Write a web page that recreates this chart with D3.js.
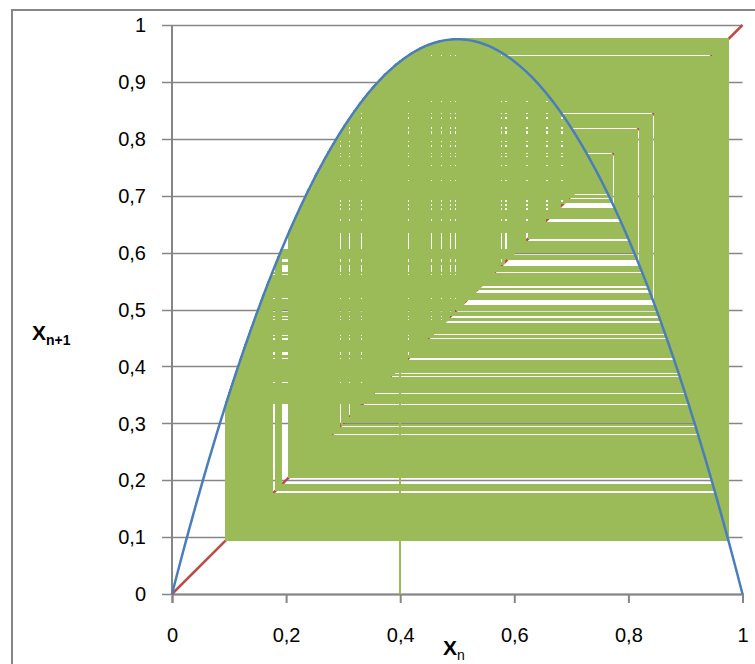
<!DOCTYPE html>
<html>
<head>
<meta charset="utf-8">
<script src="https://cdn.jsdelivr.net/npm/d3@7"></script>
<style>
  html, body { margin: 0; padding: 0; background: #fff; }
  svg { display: block; }
  text { font-family: "Liberation Sans", Arial, sans-serif; fill: #000; }
</style>
</head>
<body>
<svg id="chart" width="755" height="664"></svg>
<script>
// Logistic map x(n+1) = r * x(n) * (1 - x(n)), cobweb diagram
const growthRate = 3.9;
const startValue = 0.4;
const iterations = 1300;

const yTicks = [0, 0.1, 0.2, 0.3, 0.4, 0.5, 0.6, 0.7, 0.8, 0.9, 1];
const xTicks = [0, 0.2, 0.4, 0.6, 0.8, 1];
const diagonal = [0, 1];
const curveSamples = d3.range(0, 201).map(i => i / 200);

const logistic = v => growthRate * v * (1 - v);

// cobweb path: up to the curve, across to the diagonal, repeat
const cobweb = [[startValue, 0]];
let xn = startValue;
for (let i = 0; i < iterations; i++) {
  const next = logistic(xn);
  cobweb.push([xn, next]);
  cobweb.push([next, next]);
  xn = next;
}

const svg = d3.select("#chart");
const plotLeft = 172, plotRight = 742.5, plotTop = 25, plotBottom = 594;
const x = d3.scaleLinear().domain([0, 1]).range([plotLeft, plotRight]);
const y = d3.scaleLinear().domain([0, 1]).range([plotBottom, plotTop]);
const fmt = d => d === 0 ? "0" : d === 1 ? "1" : String(d).replace(".", ",");
const gray = "#868686";

// chart area frame
svg.append("path")
  .attr("d", "M12,664 L12,10 L755,10")
  .attr("fill", "none").attr("stroke", gray).attr("stroke-width", 2);

// horizontal gridlines + y tick marks
svg.append("g").selectAll("line").data(yTicks).join("line")
  .attr("x1", plotLeft - 10).attr("x2", plotRight)
  .attr("y1", d => Math.round(y(d)) + 0.5).attr("y2", d => Math.round(y(d)) + 0.5)
  .attr("stroke", gray).attr("stroke-width", 1.5);

// y axis line
svg.append("line")
  .attr("x1", plotLeft).attr("x2", plotLeft).attr("y1", plotTop).attr("y2", plotBottom)
  .attr("stroke", gray).attr("stroke-width", 2);

// x axis with outward ticks
const xAxis = d3.axisBottom(x).tickValues(xTicks).tickSize(9).tickFormat(fmt).tickPadding(25);
const gx = svg.append("g").attr("transform", `translate(0,${plotBottom})`).call(xAxis);
gx.select(".domain").attr("stroke", gray).attr("stroke-width", 2);
gx.selectAll(".tick line").attr("stroke", gray).attr("stroke-width", 2);
gx.selectAll("text").attr("font-size", 20).attr("font-family", "Liberation Sans, Arial, sans-serif").attr("fill", "#000");

// y tick labels
svg.append("g").selectAll("text").data(yTicks).join("text")
  .attr("x", 146).attr("y", d => y(d)).attr("dy", "0.36em")
  .attr("text-anchor", "end").attr("font-size", 20)
  .text(fmt);

// diagonal y = x
svg.append("path")
  .datum(diagonal.map(v => [v, v]))
  .attr("d", d3.line().x(d => x(d[0])).y(d => y(d[1])))
  .attr("fill", "none").attr("stroke", "#BE4B48").attr("stroke-width", 2.5);

// cobweb iterations (axis-aligned segments, drawn crisp)
svg.append("path")
  .datum(cobweb)
  .attr("d", d3.line().x(d => x(d[0])).y(d => y(d[1])))
  .attr("fill", "none").attr("stroke", "#9BBB59").attr("stroke-width", 2)
  .attr("stroke-linejoin", "miter")
  .attr("shape-rendering", "crispEdges");

// logistic curve
svg.append("path")
  .datum(curveSamples.map(v => [v, logistic(v)]))
  .attr("d", d3.line().x(d => x(d[0])).y(d => y(d[1])))
  .attr("fill", "none").attr("stroke", "#4A7EBB").attr("stroke-width", 2.5);

// axis titles
const tx = svg.append("text").attr("x", 443).attr("y", 655).attr("font-size", 21).attr("font-weight", "bold");
tx.append("tspan").text("X");
tx.append("tspan").attr("font-size", 14).attr("font-weight", "normal").attr("dy", 5).text("n");

const ty = svg.append("text").attr("x", 32).attr("y", 340).attr("font-size", 21).attr("font-weight", "bold");
ty.append("tspan").text("X");
ty.append("tspan").attr("font-size", 14).attr("dy", 5).text("n+1");
</script>
</body>
</html>
